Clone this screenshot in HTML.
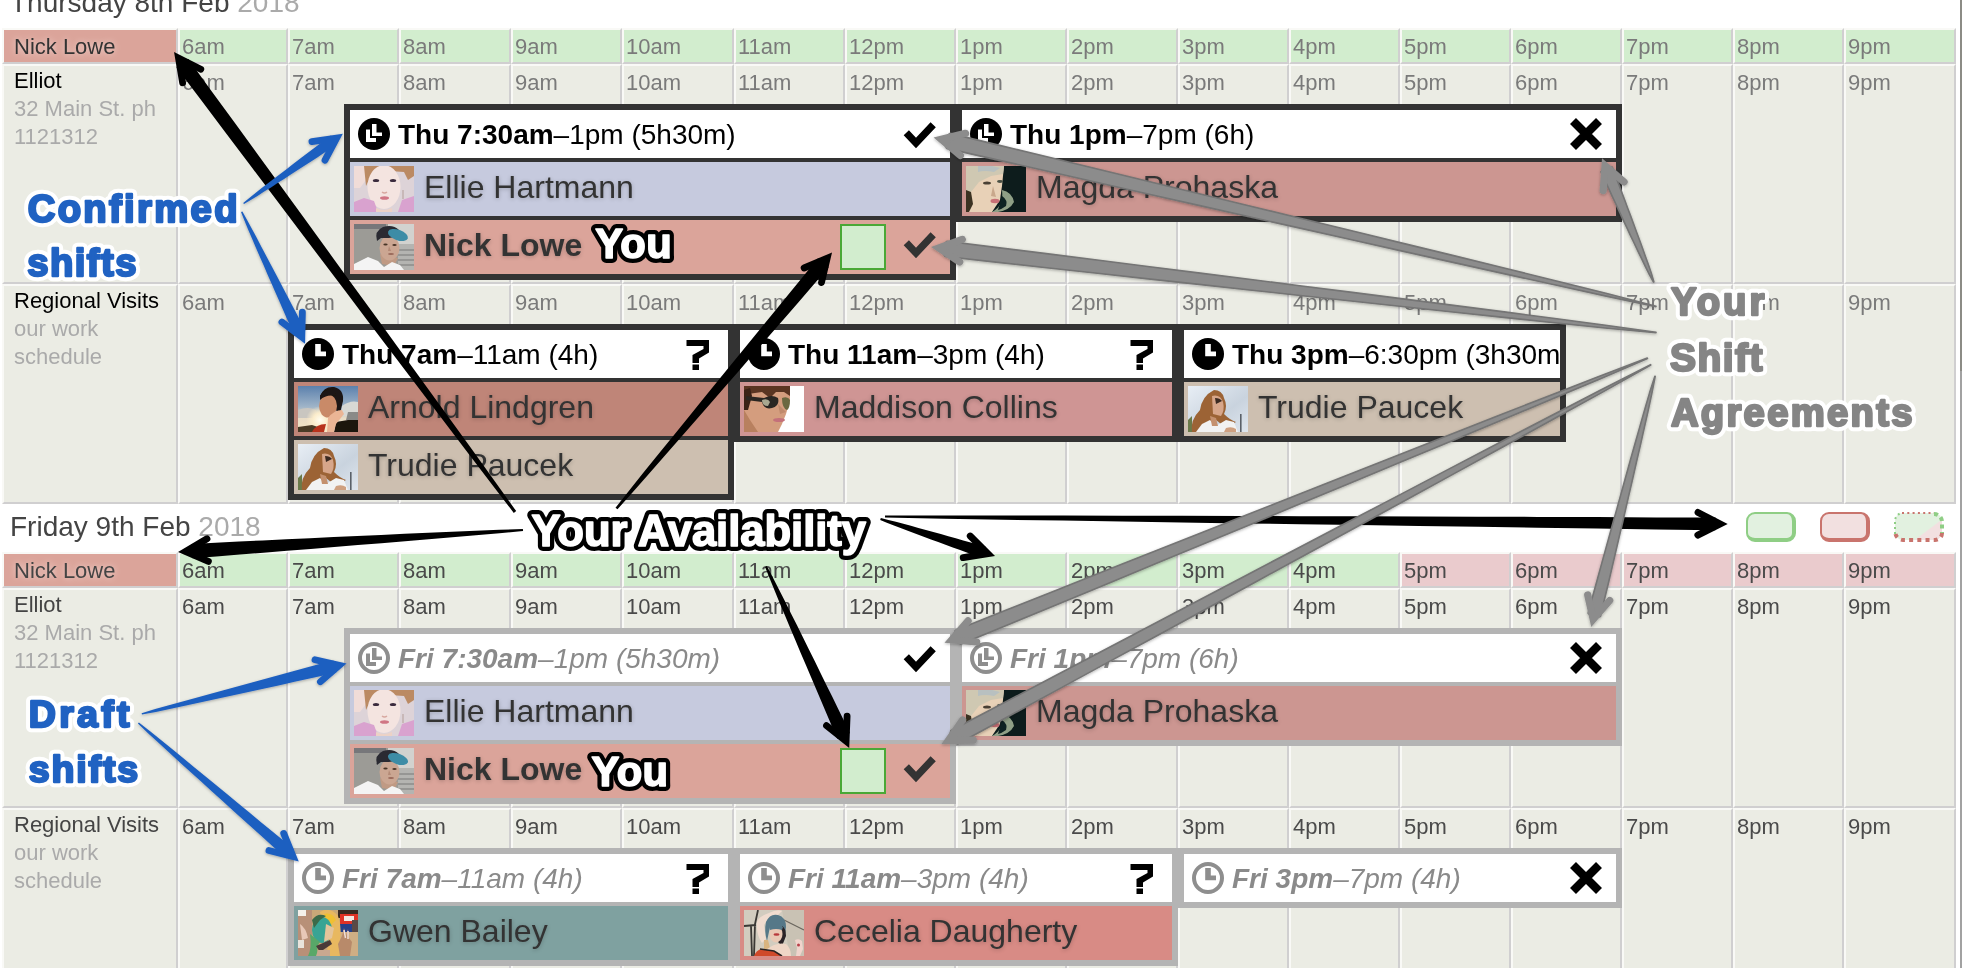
<!DOCTYPE html><html><head><meta charset="utf-8"><title>Schedule</title><style>
*{box-sizing:border-box;margin:0;padding:0}
html,body{width:1962px;height:968px;overflow:hidden;background:#fff}
body{position:relative;will-change:transform;font-family:"Liberation Sans",sans-serif}
.c{position:absolute;border-style:solid;border-width:2px;border-color:#f9f9f6 #d0cfd0 #d0cfd0 #f9f9f6;background:#ebece4;font-size:22px;line-height:28px;color:#7a7a7a;padding:3px 0 0 2px;white-space:nowrap;overflow:hidden}
.c.d{color:#4a4a4a}
.g{background:#d2edce}
.p{background:#eacbcd}
.l{padding:1px 0 0 10px;color:#000}
.l.nl{padding-top:3px}
.l.d{color:#444}
.l i{font-style:normal;color:#aaa;display:block}
.nl{background:#dba49a;color:#333;text-shadow:0 0 6px #f3d9d4}
.nl.d{color:#444}
.h{position:absolute;left:10px;font-size:28px;line-height:32px;color:#444;white-space:nowrap}
.h i{font-style:normal;color:#aaa}
.s{position:absolute;background:#333;font-size:28px}
.s.dr{background:#b4b4b4}
.s>div{position:absolute;left:6px;right:6px}
.t{top:6px;height:48px;background:#fff;line-height:49px;padding-left:48px;color:#000;white-space:nowrap;overflow:hidden}
.dr .t{color:#8a8a8a;font-style:italic}
.t b{font-weight:bold}
.r{height:54px;font-size:32px;line-height:50px;padding-left:74px;color:#333;white-space:nowrap;overflow:hidden;text-shadow:0 1px 4px rgba(0,0,0,.22)}
.r1{top:58px}.r2{top:116px}
.sq{position:absolute;left:490px;top:4px;width:46px;height:46px;background:#d2edce;border:2px solid #4aa836}
.av{position:absolute;left:4px;top:4px;width:60px;height:46px;overflow:hidden}
.ic{position:absolute}
svg{position:absolute;overflow:visible}
</style></head><body>
<svg width="0" height="0" style="left:0;top:0"><defs><filter id="bl" x="-10%" y="-10%" width="120%" height="120%"><feGaussianBlur stdDeviation="0.7"/></filter></defs></svg>
<div class="h" style="top:-13px">Thursday 8th Feb <i>2018</i></div>
<div class="h" style="top:511px">Friday 9th Feb <i>2018</i></div>
<div class="c l nl" style="left:2px;top:28px;width:176px;height:36px">Nick Lowe</div>
<div class="c g" style="left:178px;top:28px;width:110px;height:36px">6am</div>
<div class="c g" style="left:288px;top:28px;width:111px;height:36px">7am</div>
<div class="c g" style="left:399px;top:28px;width:112px;height:36px">8am</div>
<div class="c g" style="left:511px;top:28px;width:111px;height:36px">9am</div>
<div class="c g" style="left:622px;top:28px;width:112px;height:36px">10am</div>
<div class="c g" style="left:734px;top:28px;width:111px;height:36px">11am</div>
<div class="c g" style="left:845px;top:28px;width:111px;height:36px">12pm</div>
<div class="c g" style="left:956px;top:28px;width:111px;height:36px">1pm</div>
<div class="c g" style="left:1067px;top:28px;width:111px;height:36px">2pm</div>
<div class="c g" style="left:1178px;top:28px;width:111px;height:36px">3pm</div>
<div class="c g" style="left:1289px;top:28px;width:111px;height:36px">4pm</div>
<div class="c g" style="left:1400px;top:28px;width:111px;height:36px">5pm</div>
<div class="c g" style="left:1511px;top:28px;width:111px;height:36px">6pm</div>
<div class="c g" style="left:1622px;top:28px;width:111px;height:36px">7pm</div>
<div class="c g" style="left:1733px;top:28px;width:111px;height:36px">8pm</div>
<div class="c g" style="left:1844px;top:28px;width:112px;height:36px">9pm</div>
<div class="c l " style="left:2px;top:64px;width:176px;height:220px">Elliot<i>32 Main St. ph</i><i>1121312</i></div>
<div class="c " style="left:178px;top:64px;width:110px;height:220px">6am</div>
<div class="c " style="left:288px;top:64px;width:111px;height:220px">7am</div>
<div class="c " style="left:399px;top:64px;width:112px;height:220px">8am</div>
<div class="c " style="left:511px;top:64px;width:111px;height:220px">9am</div>
<div class="c " style="left:622px;top:64px;width:112px;height:220px">10am</div>
<div class="c " style="left:734px;top:64px;width:111px;height:220px">11am</div>
<div class="c " style="left:845px;top:64px;width:111px;height:220px">12pm</div>
<div class="c " style="left:956px;top:64px;width:111px;height:220px">1pm</div>
<div class="c " style="left:1067px;top:64px;width:111px;height:220px">2pm</div>
<div class="c " style="left:1178px;top:64px;width:111px;height:220px">3pm</div>
<div class="c " style="left:1289px;top:64px;width:111px;height:220px">4pm</div>
<div class="c " style="left:1400px;top:64px;width:111px;height:220px">5pm</div>
<div class="c " style="left:1511px;top:64px;width:111px;height:220px">6pm</div>
<div class="c " style="left:1622px;top:64px;width:111px;height:220px">7pm</div>
<div class="c " style="left:1733px;top:64px;width:111px;height:220px">8pm</div>
<div class="c " style="left:1844px;top:64px;width:112px;height:220px">9pm</div>
<div class="c l " style="left:2px;top:284px;width:176px;height:220px">Regional Visits<i>our work</i><i>schedule</i></div>
<div class="c " style="left:178px;top:284px;width:110px;height:220px">6am</div>
<div class="c " style="left:288px;top:284px;width:111px;height:220px">7am</div>
<div class="c " style="left:399px;top:284px;width:112px;height:220px">8am</div>
<div class="c " style="left:511px;top:284px;width:111px;height:220px">9am</div>
<div class="c " style="left:622px;top:284px;width:112px;height:220px">10am</div>
<div class="c " style="left:734px;top:284px;width:111px;height:220px">11am</div>
<div class="c " style="left:845px;top:284px;width:111px;height:220px">12pm</div>
<div class="c " style="left:956px;top:284px;width:111px;height:220px">1pm</div>
<div class="c " style="left:1067px;top:284px;width:111px;height:220px">2pm</div>
<div class="c " style="left:1178px;top:284px;width:111px;height:220px">3pm</div>
<div class="c " style="left:1289px;top:284px;width:111px;height:220px">4pm</div>
<div class="c " style="left:1400px;top:284px;width:111px;height:220px">5pm</div>
<div class="c " style="left:1511px;top:284px;width:111px;height:220px">6pm</div>
<div class="c " style="left:1622px;top:284px;width:111px;height:220px">7pm</div>
<div class="c " style="left:1733px;top:284px;width:111px;height:220px">8pm</div>
<div class="c " style="left:1844px;top:284px;width:112px;height:220px">9pm</div>
<div class="c l nl d" style="left:2px;top:552px;width:176px;height:36px">Nick Lowe</div>
<div class="c g d" style="left:178px;top:552px;width:110px;height:36px">6am</div>
<div class="c g d" style="left:288px;top:552px;width:111px;height:36px">7am</div>
<div class="c g d" style="left:399px;top:552px;width:112px;height:36px">8am</div>
<div class="c g d" style="left:511px;top:552px;width:111px;height:36px">9am</div>
<div class="c g d" style="left:622px;top:552px;width:112px;height:36px">10am</div>
<div class="c g d" style="left:734px;top:552px;width:111px;height:36px">11am</div>
<div class="c g d" style="left:845px;top:552px;width:111px;height:36px">12pm</div>
<div class="c g d" style="left:956px;top:552px;width:111px;height:36px">1pm</div>
<div class="c g d" style="left:1067px;top:552px;width:111px;height:36px">2pm</div>
<div class="c g d" style="left:1178px;top:552px;width:111px;height:36px">3pm</div>
<div class="c g d" style="left:1289px;top:552px;width:111px;height:36px">4pm</div>
<div class="c p d" style="left:1400px;top:552px;width:111px;height:36px">5pm</div>
<div class="c p d" style="left:1511px;top:552px;width:111px;height:36px">6pm</div>
<div class="c p d" style="left:1622px;top:552px;width:111px;height:36px">7pm</div>
<div class="c p d" style="left:1733px;top:552px;width:111px;height:36px">8pm</div>
<div class="c p d" style="left:1844px;top:552px;width:112px;height:36px">9pm</div>
<div class="c l  d" style="left:2px;top:588px;width:176px;height:220px">Elliot<i>32 Main St. ph</i><i>1121312</i></div>
<div class="c  d" style="left:178px;top:588px;width:110px;height:220px">6am</div>
<div class="c  d" style="left:288px;top:588px;width:111px;height:220px">7am</div>
<div class="c  d" style="left:399px;top:588px;width:112px;height:220px">8am</div>
<div class="c  d" style="left:511px;top:588px;width:111px;height:220px">9am</div>
<div class="c  d" style="left:622px;top:588px;width:112px;height:220px">10am</div>
<div class="c  d" style="left:734px;top:588px;width:111px;height:220px">11am</div>
<div class="c  d" style="left:845px;top:588px;width:111px;height:220px">12pm</div>
<div class="c  d" style="left:956px;top:588px;width:111px;height:220px">1pm</div>
<div class="c  d" style="left:1067px;top:588px;width:111px;height:220px">2pm</div>
<div class="c  d" style="left:1178px;top:588px;width:111px;height:220px">3pm</div>
<div class="c  d" style="left:1289px;top:588px;width:111px;height:220px">4pm</div>
<div class="c  d" style="left:1400px;top:588px;width:111px;height:220px">5pm</div>
<div class="c  d" style="left:1511px;top:588px;width:111px;height:220px">6pm</div>
<div class="c  d" style="left:1622px;top:588px;width:111px;height:220px">7pm</div>
<div class="c  d" style="left:1733px;top:588px;width:111px;height:220px">8pm</div>
<div class="c  d" style="left:1844px;top:588px;width:112px;height:220px">9pm</div>
<div class="c l  d" style="left:2px;top:808px;width:176px;height:220px">Regional Visits<i>our work</i><i>schedule</i></div>
<div class="c  d" style="left:178px;top:808px;width:110px;height:220px">6am</div>
<div class="c  d" style="left:288px;top:808px;width:111px;height:220px">7am</div>
<div class="c  d" style="left:399px;top:808px;width:112px;height:220px">8am</div>
<div class="c  d" style="left:511px;top:808px;width:111px;height:220px">9am</div>
<div class="c  d" style="left:622px;top:808px;width:112px;height:220px">10am</div>
<div class="c  d" style="left:734px;top:808px;width:111px;height:220px">11am</div>
<div class="c  d" style="left:845px;top:808px;width:111px;height:220px">12pm</div>
<div class="c  d" style="left:956px;top:808px;width:111px;height:220px">1pm</div>
<div class="c  d" style="left:1067px;top:808px;width:111px;height:220px">2pm</div>
<div class="c  d" style="left:1178px;top:808px;width:111px;height:220px">3pm</div>
<div class="c  d" style="left:1289px;top:808px;width:111px;height:220px">4pm</div>
<div class="c  d" style="left:1400px;top:808px;width:111px;height:220px">5pm</div>
<div class="c  d" style="left:1511px;top:808px;width:111px;height:220px">6pm</div>
<div class="c  d" style="left:1622px;top:808px;width:111px;height:220px">7pm</div>
<div class="c  d" style="left:1733px;top:808px;width:111px;height:220px">8pm</div>
<div class="c  d" style="left:1844px;top:808px;width:112px;height:220px">9pm</div>
<div class="s" style="left:344px;top:104px;width:612px;height:176px">
<div class="t"><svg class="ic" style="left:8px;top:8px" width="32" height="32" viewBox="0 0 32 32"><circle cx="16" cy="16" r="16" fill="#000"/><path d="M14 6h4.5v8.5H24v3.5H14zM8 11.5h4v8.5h6v4H8z" fill="#fff"/></svg><b>Thu 7:30am</b>–1pm (5h30m)<svg class="ic" style="right:14px;top:12px" width="32" height="26" viewBox="0 0 32 26"><path d="M2.3 10.7L12 21L29.2 2.7" fill="none" stroke="#000" stroke-width="7.2"/></svg></div>
<div class="r r1" style="background:#c6cade"><div class="av" style="background:#ddd3d8"><svg width="60" height="46" viewBox="0 0 60 46" style="left:0;top:0;overflow:hidden"><g filter="url(#bl)"><rect width="60" height="46" fill="#ddd3d8"/><path d="M0 0h14l-2 14l-6 8H0z" fill="#f0dcd8"/><path d="M10 0h50v10l-6 4l-4-8l-30-2l-8 16z" fill="#bb8a64"/><ellipse cx="30" cy="21" rx="16.5" ry="22" fill="#f4e4e0"/><path d="M0 36l10-4l10 3l4 11H0zM60 30l-12 4l-4 12h16z" fill="#d9a2cf"/><path d="M22 42q8 4 16 0v4H22z" fill="#ecd2c6"/><ellipse cx="22" cy="14.5" rx="3.2" ry="1.6" fill="#3a2c3c"/><ellipse cx="39" cy="14.5" rx="3.2" ry="1.6" fill="#3a2c3c"/><ellipse cx="30.5" cy="32" rx="4.5" ry="1.8" fill="#d07684"/><path d="M28 26q2.5 2 5 0" stroke="#d8a8a0" stroke-width="1.5" fill="none"/><rect x="48" y="24" width="2" height="9" fill="#c8b8b8"/></g></svg></div>Ellie Hartmann</div>
<div class="r r2" style="background:#dba49a"><div class="av" style="background:#9c9b96"><svg width="60" height="46" viewBox="0 0 60 46" style="left:0;top:0;overflow:hidden"><g filter="url(#bl)"><rect width="60" height="46" fill="#9c9b96"/><rect x="34" y="0" width="26" height="20" fill="#d2d2cf"/><rect x="0" y="0" width="32" height="5" fill="#77777a"/><rect x="44" y="20" width="16" height="26" fill="#b4b4b1"/><path d="M44 26h16M44 31h16M44 36h16M44 41h16" stroke="#8c8c8a" stroke-width="1.5"/><path d="M26 30l2 10l12 2l4-8z" fill="#c09a84"/><ellipse cx="35.500" cy="24" rx="10" ry="12.500" fill="#cba692"/><path d="M23 17q-3-10 6-14q10-3 16 3l2 6l-12 2l-8 0z" fill="#2a2a33"/><ellipse cx="44" cy="11" rx="10.500" ry="5.200" transform="rotate(20 44 11)" fill="#3e8ca6"/><path d="M0 46v-6l14-7l10 4l6 6l8-5l8 3l4 5z" fill="#f4f4f4"/><ellipse cx="37" cy="30" rx="3" ry="1" fill="#9a6a5a"/><ellipse cx="31.500" cy="20.500" rx="2.200" ry="1" fill="#4a3428"/><ellipse cx="40.500" cy="21" rx="2.200" ry="1" fill="#4a3428"/><path d="M35 22l-1 5l3 0z" fill="#b48a76"/></g></svg></div><b>Nick Lowe</b><span class="sq"></span><svg class="ic" style="right:14px;top:12px" width="32" height="26" viewBox="0 0 32 26"><path d="M2.3 10.7L12 21L29.2 2.7" fill="none" stroke="#333" stroke-width="7.2"/></svg></div>
</div>
<div class="s" style="left:956px;top:104px;width:666px;height:118px">
<div class="t"><svg class="ic" style="left:8px;top:8px" width="32" height="32" viewBox="0 0 32 32"><circle cx="16" cy="16" r="16" fill="#000"/><path d="M14 6h4.5v8.5H24v3.5H14zM8 11.5h4v8.5h6v4H8z" fill="#fff"/></svg><b>Thu 1pm</b>–7pm (6h)<svg class="ic" style="right:14px;top:8px" width="32" height="32" viewBox="0 0 32 32"><path d="M3 3L29 29M29 3L3 29" fill="none" stroke="#000" stroke-width="8.4"/></svg></div>
<div class="r r1" style="background:#cc9691"><div class="av" style="background:#081a1a"><svg width="60" height="46" viewBox="0 0 60 46" style="left:0;top:0;overflow:hidden"><g filter="url(#bl)"><rect width="60" height="46" fill="#081a1a"/><path d="M0 0h38l-2 20l-2 14l-8 12H0z" fill="#e8d1b7"/><path d="M0 0h38l-1 8l-12 2l-12 6l-8 10l-5 0z" fill="#cfc8b2"/><path d="M0 24l5 2l2 12l-4 8H0z" fill="#3a3020"/><path d="M36 24q10 2 12 12q-4 8-16 10h-6q12-6 10-22z" fill="#8f9f86"/><path d="M36 30q6 4 4 10q-4 3-8 4z" fill="#0c2020"/><ellipse cx="21" cy="17" rx="4" ry="1.6" fill="#4a4034"/><ellipse cx="34" cy="15.5" rx="3" ry="1.4" fill="#4a5044"/><ellipse cx="29" cy="35" rx="4.5" ry="2.2" fill="#c87076"/><path d="M27 20l-2 10l5 1z" fill="#c9a88c"/><path d="M12 0q10 -2 22 2l-6 4q-10-2-16 0z" fill="#b8c0c0"/></g></svg></div>Magda Prohaska</div>
</div>
<div class="s" style="left:288px;top:324px;width:446px;height:176px">
<div class="t"><svg class="ic" style="left:8px;top:8px" width="32" height="32" viewBox="0 0 32 32"><circle cx="16" cy="16" r="16" fill="#000"/><path d="M13.2 6h5.6v7.4H24v4.8H13.2z" fill="#fff"/></svg><b>Thu 7am</b>–11am (4h)<svg class="ic" style="right:18px;top:10px" width="24" height="30" viewBox="0 0 24 30"><path d="M0.5 0H23v12.5L13 18.5V23H6.5V15L17.5 9V6H0.5zM6.5 24.5H13V30H6.5z" fill="#000"/></svg></div>
<div class="r r1" style="background:#bf8578"><div class="av" style="background:#7f9ab8"><svg width="60" height="46" viewBox="0 0 60 46" style="left:0;top:0;overflow:hidden"><g filter="url(#bl)"><defs><linearGradient id="sk" x1="0" y1="0" x2="0" y2="1"><stop offset="0" stop-color="#5b80ad"/><stop offset=".45" stop-color="#9fb4c8"/><stop offset=".7" stop-color="#e9dcc6"/><stop offset="1" stop-color="#f4e6c4"/></linearGradient><radialGradient id="sn"><stop offset="0" stop-color="#fffdf0"/><stop offset=".5" stop-color="#fbeccb"/><stop offset="1" stop-color="#fbeccb" stop-opacity="0"/></radialGradient></defs><rect width="60" height="46" fill="url(#sk)"/><path d="M44 20q8-6 16-4v14l-16 0z" fill="#d8d8d4"/><path d="M50 26h10v8H48z" fill="#8a8a88"/><path d="M0 24q10-4 18 0v8H0z" fill="#c9c6c0"/><circle cx="22" cy="34" r="14" fill="url(#sn)"/><path d="M0 41l14-2l6 2v5H0z" fill="#4a3a26"/><path d="M14 46q4-8 14-8l-2 8z" fill="#b8321c"/><path d="M36 46l2-10l12-2l10 0v12z" fill="#1a1210"/><path d="M22 10q4-10 14-9q10 2 9 14l-3 12l-6-4l-2-12z" fill="#1c1412"/><ellipse cx="30" cy="20" rx="9" ry="11.5" fill="#c98a68"/><path d="M22 10q4-8 14-6l2 6q-10-2-16 4z" fill="#1c1412"/><path d="M30 32q6-8 14-8l2 4l-8 10l-2 8h-7z" fill="#ebb595"/></g></svg></div>Arnold Lindgren</div>
<div class="r r2" style="background:#cdbfb0"><div class="av" style="background:#d5dde6"><svg width="60" height="46" viewBox="0 0 60 46" style="left:0;top:0;overflow:hidden"><g filter="url(#bl)"><defs><linearGradient id="ts" x1="0" y1="0" x2="1" y2="1"><stop offset="0" stop-color="#e8eef5"/><stop offset=".6" stop-color="#c9d3de"/><stop offset="1" stop-color="#dfe6ee"/></linearGradient></defs><rect width="60" height="46" fill="url(#ts)"/><path d="M0 34l4-4v16H0z" fill="#6a7a4a"/><path d="M52 28h1.6v18H52z" fill="#5a6068"/><path d="M4 46q-2-12 8-22q2-14 14-20q8 0 10 8q4 8 0 16q6 6 12 8l-10 6l-10-8l-8 6l-6 6z" fill="#9c6436"/><path d="M24 10q8-2 11 6q2 8-2 14l-8-2z" fill="#d7a68a"/><path d="M27 12q5 0 7 3l-6 3z" fill="#3a2a22"/><path d="M8 46l6-8l8-4l6 6l10-6l8 2l4 10z" fill="#f2f2f2"/><path d="M38 42q6-2 10 1v3H36z" fill="#cfa080"/><path d="M22 30l6 2l2 8l-6 0z" fill="#c4906e"/></g></svg></div>Trudie Paucek</div>
</div>
<div class="s" style="left:734px;top:324px;width:444px;height:118px">
<div class="t"><svg class="ic" style="left:8px;top:8px" width="32" height="32" viewBox="0 0 32 32"><circle cx="16" cy="16" r="16" fill="#000"/><path d="M13.2 6h5.6v7.4H24v4.8H13.2z" fill="#fff"/></svg><b>Thu 11am</b>–3pm (4h)<svg class="ic" style="right:18px;top:10px" width="24" height="30" viewBox="0 0 24 30"><path d="M0.5 0H23v12.5L13 18.5V23H6.5V15L17.5 9V6H0.5zM6.5 24.5H13V30H6.5z" fill="#000"/></svg></div>
<div class="r r1" style="background:#cf9594"><div class="av" style="background:#d49d7e"><svg width="60" height="46" viewBox="0 0 60 46" style="left:0;top:0;overflow:hidden"><g filter="url(#bl)"><rect width="60" height="46" fill="#fff"/><path d="M0 0h46l0 14l-4 14l-4 10l-4 8H0z" fill="#d49d7e"/><path d="M0 0h46v10l-6-4l-8 0l-6 6l-8-6l-14 2l-4 10z" fill="#5a3424"/><path d="M0 4l6-2l2 8l-4 14H0z" fill="#3a2018"/><path d="M2 10l18 2q8-4 14 0q2 8-6 10q-8 2-10-6l-16-2z" fill="#2c2622"/><path d="M38 12q6-2 8 2q0 8-3 10q-5-2-5-12z" fill="#6a6840"/><path d="M18 14q6-2 8 2l-2 4q-6 0-6-6z" fill="#a8a890"/><ellipse cx="35" cy="34" rx="6" ry="2" fill="#c4707a"/><path d="M34 18l8 8l-6 2z" fill="#c08a6c"/><path d="M0 24l6 10l8 12H0z" fill="#b8805e"/></g></svg></div>Maddison Collins</div>
</div>
<div class="s" style="left:1178px;top:324px;width:388px;height:118px">
<div class="t"><svg class="ic" style="left:8px;top:8px" width="32" height="32" viewBox="0 0 32 32"><circle cx="16" cy="16" r="16" fill="#000"/><path d="M13.2 6h5.6v7.4H24v4.8H13.2z" fill="#fff"/></svg><b>Thu 3pm</b>–6:30pm (3h30m)</div>
<div class="r r1" style="background:#cdbfb0"><div class="av" style="background:#d5dde6"><svg width="60" height="46" viewBox="0 0 60 46" style="left:0;top:0;overflow:hidden"><g filter="url(#bl)"><defs><linearGradient id="ts" x1="0" y1="0" x2="1" y2="1"><stop offset="0" stop-color="#e8eef5"/><stop offset=".6" stop-color="#c9d3de"/><stop offset="1" stop-color="#dfe6ee"/></linearGradient></defs><rect width="60" height="46" fill="url(#ts)"/><path d="M0 34l4-4v16H0z" fill="#6a7a4a"/><path d="M52 28h1.6v18H52z" fill="#5a6068"/><path d="M4 46q-2-12 8-22q2-14 14-20q8 0 10 8q4 8 0 16q6 6 12 8l-10 6l-10-8l-8 6l-6 6z" fill="#9c6436"/><path d="M24 10q8-2 11 6q2 8-2 14l-8-2z" fill="#d7a68a"/><path d="M27 12q5 0 7 3l-6 3z" fill="#3a2a22"/><path d="M8 46l6-8l8-4l6 6l10-6l8 2l4 10z" fill="#f2f2f2"/><path d="M38 42q6-2 10 1v3H36z" fill="#cfa080"/><path d="M22 30l6 2l2 8l-6 0z" fill="#c4906e"/></g></svg></div>Trudie Paucek</div>
</div>
<div class="s dr" style="left:344px;top:628px;width:612px;height:176px">
<div class="t"><svg class="ic" style="left:8px;top:8px" width="32" height="32" viewBox="0 0 32 32"><circle cx="16" cy="16" r="14" fill="none" stroke="#8e8e8e" stroke-width="4"/><path d="M14 6h4.5v8.5H24v3.5H14zM8 11.5h4v8.5h6v4H8z" fill="#8e8e8e"/></svg><b>Fri 7:30am</b>–1pm (5h30m)<svg class="ic" style="right:14px;top:12px" width="32" height="26" viewBox="0 0 32 26"><path d="M2.3 10.7L12 21L29.2 2.7" fill="none" stroke="#000" stroke-width="7.2"/></svg></div>
<div class="r r1" style="background:#c6cade"><div class="av" style="background:#ddd3d8"><svg width="60" height="46" viewBox="0 0 60 46" style="left:0;top:0;overflow:hidden"><g filter="url(#bl)"><rect width="60" height="46" fill="#ddd3d8"/><path d="M0 0h14l-2 14l-6 8H0z" fill="#f0dcd8"/><path d="M10 0h50v10l-6 4l-4-8l-30-2l-8 16z" fill="#bb8a64"/><ellipse cx="30" cy="21" rx="16.5" ry="22" fill="#f4e4e0"/><path d="M0 36l10-4l10 3l4 11H0zM60 30l-12 4l-4 12h16z" fill="#d9a2cf"/><path d="M22 42q8 4 16 0v4H22z" fill="#ecd2c6"/><ellipse cx="22" cy="14.5" rx="3.2" ry="1.6" fill="#3a2c3c"/><ellipse cx="39" cy="14.5" rx="3.2" ry="1.6" fill="#3a2c3c"/><ellipse cx="30.5" cy="32" rx="4.5" ry="1.8" fill="#d07684"/><path d="M28 26q2.5 2 5 0" stroke="#d8a8a0" stroke-width="1.5" fill="none"/><rect x="48" y="24" width="2" height="9" fill="#c8b8b8"/></g></svg></div>Ellie Hartmann</div>
<div class="r r2" style="background:#dba49a"><div class="av" style="background:#9c9b96"><svg width="60" height="46" viewBox="0 0 60 46" style="left:0;top:0;overflow:hidden"><g filter="url(#bl)"><rect width="60" height="46" fill="#9c9b96"/><rect x="34" y="0" width="26" height="20" fill="#d2d2cf"/><rect x="0" y="0" width="32" height="5" fill="#77777a"/><rect x="44" y="20" width="16" height="26" fill="#b4b4b1"/><path d="M44 26h16M44 31h16M44 36h16M44 41h16" stroke="#8c8c8a" stroke-width="1.5"/><path d="M26 30l2 10l12 2l4-8z" fill="#c09a84"/><ellipse cx="35.500" cy="24" rx="10" ry="12.500" fill="#cba692"/><path d="M23 17q-3-10 6-14q10-3 16 3l2 6l-12 2l-8 0z" fill="#2a2a33"/><ellipse cx="44" cy="11" rx="10.500" ry="5.200" transform="rotate(20 44 11)" fill="#3e8ca6"/><path d="M0 46v-6l14-7l10 4l6 6l8-5l8 3l4 5z" fill="#f4f4f4"/><ellipse cx="37" cy="30" rx="3" ry="1" fill="#9a6a5a"/><ellipse cx="31.500" cy="20.500" rx="2.200" ry="1" fill="#4a3428"/><ellipse cx="40.500" cy="21" rx="2.200" ry="1" fill="#4a3428"/><path d="M35 22l-1 5l3 0z" fill="#b48a76"/></g></svg></div><b>Nick Lowe</b><span class="sq"></span><svg class="ic" style="right:14px;top:12px" width="32" height="26" viewBox="0 0 32 26"><path d="M2.3 10.7L12 21L29.2 2.7" fill="none" stroke="#333" stroke-width="7.2"/></svg></div>
</div>
<div class="s dr" style="left:956px;top:628px;width:666px;height:118px">
<div class="t"><svg class="ic" style="left:8px;top:8px" width="32" height="32" viewBox="0 0 32 32"><circle cx="16" cy="16" r="14" fill="none" stroke="#8e8e8e" stroke-width="4"/><path d="M14 6h4.5v8.5H24v3.5H14zM8 11.5h4v8.5h6v4H8z" fill="#8e8e8e"/></svg><b>Fri 1pm</b>–7pm (6h)<svg class="ic" style="right:14px;top:8px" width="32" height="32" viewBox="0 0 32 32"><path d="M3 3L29 29M29 3L3 29" fill="none" stroke="#000" stroke-width="8.4"/></svg></div>
<div class="r r1" style="background:#cc9691"><div class="av" style="background:#081a1a"><svg width="60" height="46" viewBox="0 0 60 46" style="left:0;top:0;overflow:hidden"><g filter="url(#bl)"><rect width="60" height="46" fill="#081a1a"/><path d="M0 0h38l-2 20l-2 14l-8 12H0z" fill="#e8d1b7"/><path d="M0 0h38l-1 8l-12 2l-12 6l-8 10l-5 0z" fill="#cfc8b2"/><path d="M0 24l5 2l2 12l-4 8H0z" fill="#3a3020"/><path d="M36 24q10 2 12 12q-4 8-16 10h-6q12-6 10-22z" fill="#8f9f86"/><path d="M36 30q6 4 4 10q-4 3-8 4z" fill="#0c2020"/><ellipse cx="21" cy="17" rx="4" ry="1.6" fill="#4a4034"/><ellipse cx="34" cy="15.5" rx="3" ry="1.4" fill="#4a5044"/><ellipse cx="29" cy="35" rx="4.5" ry="2.2" fill="#c87076"/><path d="M27 20l-2 10l5 1z" fill="#c9a88c"/><path d="M12 0q10 -2 22 2l-6 4q-10-2-16 0z" fill="#b8c0c0"/></g></svg></div>Magda Prohaska</div>
</div>
<div class="s dr" style="left:288px;top:848px;width:446px;height:118px">
<div class="t"><svg class="ic" style="left:8px;top:8px" width="32" height="32" viewBox="0 0 32 32"><circle cx="16" cy="16" r="14" fill="none" stroke="#8e8e8e" stroke-width="4"/><path d="M13.2 6h5.6v7.4H24v4.8H13.2z" fill="#8e8e8e"/></svg><b>Fri 7am</b>–11am (4h)<svg class="ic" style="right:18px;top:10px" width="24" height="30" viewBox="0 0 24 30"><path d="M0.5 0H23v12.5L13 18.5V23H6.5V15L17.5 9V6H0.5zM6.5 24.5H13V30H6.5z" fill="#000"/></svg></div>
<div class="r r1" style="background:#7fa1a0"><div class="av" style="background:#c9a878"><svg width="60" height="46" viewBox="0 0 60 46" style="left:0;top:0;overflow:hidden"><g filter="url(#bl)"><rect width="60" height="46" fill="#c9a878"/><rect x="0" y="0" width="14" height="46" fill="#b89078"/><rect x="0" y="0" width="8" height="6" fill="#f4f0ea"/><rect x="0" y="30" width="6" height="8" fill="#e8e4dc"/><path d="M2 14q6 4 8 14l-6 2z" fill="#e8c8b8"/><rect x="40" y="0" width="20" height="8" fill="#3a2a20"/><rect x="42" y="4" width="18" height="10" fill="#e03028"/><rect x="46" y="6" width="10" height="5" fill="#f4e8e4"/><rect x="42" y="14" width="12" height="8" fill="#27408a"/><rect x="54" y="10" width="6" height="24" fill="#5a4a44"/><rect x="42" y="22" width="18" height="24" fill="#cfae84"/><path d="M22 2q10-6 18 4q4 10 2 24l0 16H28l4-20l-8-16z" fill="#e8b860"/><path d="M26 4q8-2 12 6l-8 8z" fill="#f0c030"/><ellipse cx="24" cy="20" rx="10" ry="13" fill="#38a494"/><path d="M28 14l8 4l-2 10l-8 4z" fill="#e4c49a"/><path d="M14 10q6-8 14-4l-6 4l-6 8z" fill="#3a6a4a"/><path d="M12 24q2 14 -2 22h10q-2-10 2-14z" fill="#58a868"/><path d="M18 36l14-6l2 4l-12 8z" fill="#4a3a38"/><path d="M20 40h12v6H18z" fill="#c8a890"/><path d="M44 26l2-8l2 8l2-7l1 9l3 4l-2 14h-10l-2-12z" fill="#b88a6a"/><path d="M46 20l1.500 8M50 21l0 8" stroke="#f0e0d8" stroke-width="1.5"/></g></svg></div>Gwen Bailey</div>
</div>
<div class="s dr" style="left:734px;top:848px;width:444px;height:118px">
<div class="t"><svg class="ic" style="left:8px;top:8px" width="32" height="32" viewBox="0 0 32 32"><circle cx="16" cy="16" r="14" fill="none" stroke="#8e8e8e" stroke-width="4"/><path d="M13.2 6h5.6v7.4H24v4.8H13.2z" fill="#8e8e8e"/></svg><b>Fri 11am</b>–3pm (4h)<svg class="ic" style="right:18px;top:10px" width="24" height="30" viewBox="0 0 24 30"><path d="M0.5 0H23v12.5L13 18.5V23H6.5V15L17.5 9V6H0.5zM6.5 24.5H13V30H6.5z" fill="#000"/></svg></div>
<div class="r r1" style="background:#d88b85"><div class="av" style="background:#d2ccbf"><svg width="60" height="46" viewBox="0 0 60 46" style="left:0;top:0;overflow:hidden"><g filter="url(#bl)"><rect width="60" height="46" fill="#d2ccbf"/><path d="M38 0h22v46H46q-4-20-8-46z" fill="#c9c2b4"/><path d="M0 16l12-1M14 0l-3 14l-1 32M7 16l1 30" stroke="#3a3834" stroke-width="1.8" fill="none"/><path d="M40 10l8 4l12 6" stroke="#6a665e" stroke-width="1.2" fill="none"/><path d="M13 12q2-6 12-9q8-4 13-2l-4 4l-10 4l-4 6l2 14l-4 4q-6-8-5-21z" fill="#f0dccf"/><path d="M22 12q4-9 12-7q8 2 8 12l-2 14l-4 2l2-16q-8-4-12 0l-3 14q-3-10-1-19z" fill="#557888"/><path d="M38 16q4 2 4 10l-4 10l-4-4z" fill="#2a2426"/><ellipse cx="32" cy="24" rx="6.500" ry="8.500" fill="#e9c8b4"/><path d="M25 16q6-4 14 1l-1 3q-6-2-12 0z" fill="#557888"/><ellipse cx="32.500" cy="24.500" rx="3" ry="1.300" fill="#b8383a"/><path d="M20 30l4 0l2 8l-6 2z" fill="#d9b480"/><path d="M22 40q10-8 20-6q5 4 5 12H24z" fill="#efd6c6"/><path d="M10 46q2-6 8-7l12 2l8 5z" fill="#d04a2c"/><path d="M16 39l14 2l8 5" stroke="#2a2422" stroke-width="1.5" fill="none"/><path d="M51 30q4-2 7 1l1 8l-3 7h-4l1-8z" fill="#f0d4cc"/><circle cx="54.500" cy="35" r="1.500" fill="#b8404a"/></g></svg></div>Cecelia Daugherty</div>
</div>
<div class="s dr" style="left:1178px;top:848px;width:444px;height:60px">
<div class="t"><svg class="ic" style="left:8px;top:8px" width="32" height="32" viewBox="0 0 32 32"><circle cx="16" cy="16" r="14" fill="none" stroke="#8e8e8e" stroke-width="4"/><path d="M13.2 6h5.6v7.4H24v4.8H13.2z" fill="#8e8e8e"/></svg><b>Fri 3pm</b>–7pm (4h)<svg class="ic" style="right:14px;top:8px" width="32" height="32" viewBox="0 0 32 32"><path d="M3 3L29 29M29 3L3 29" fill="none" stroke="#000" stroke-width="8.4"/></svg></div>
</div>
<div style="position:absolute;left:1746px;top:512px;width:50px;height:30px;border:solid #8fce85;border-width:2px 4px 4px 2px;border-radius:9px;background:#e2f1e0"></div>
<div style="position:absolute;left:1820px;top:512px;width:50px;height:30px;border:solid #c9746d;border-width:2px 4px 4px 2px;border-radius:9px;background:#f2e0e0"></div>
<svg style="left:1894px;top:512px" width="50" height="30" viewBox="0 0 50 30"><defs><clipPath id="lc"><rect x="1" y="1" width="47" height="27" rx="8"/></clipPath></defs><g clip-path="url(#lc)"><rect width="50" height="30" fill="#e2f1e0"/><path d="M50 6L18 30H50z" fill="#f2e0e0"/></g><path d="M1 22V9A8 8 0 0 1 9 1" fill="none" stroke="#8fce85" stroke-width="2" stroke-dasharray="2 3"/><path d="M8 1H40" fill="none" stroke="#c9746d" stroke-width="2" stroke-dasharray="2 3.3"/><path d="M40 2A8 8 0 0 1 48 9V22" fill="none" stroke="#8fce85" stroke-width="4" stroke-dasharray="4 3.5"/><path d="M48 21A7 7 0 0 1 41 28H9A8 8 0 0 1 1.500 22" fill="none" stroke="#c9746d" stroke-width="4" stroke-dasharray="4 4.2"/></svg>
<div style="position:absolute;left:1960px;top:0;width:2px;height:371px;background:#8c8c86"></div><div style="position:absolute;left:1960px;top:371px;width:2px;height:597px;background:#a2a2a2"></div>
<svg width="1962" height="968" viewBox="0 0 1962 968" style="left:0;top:0;pointer-events:none"><defs><filter id="ts" x="-5%" y="-20%" width="110%" height="150%"><feDropShadow dx="0" dy="1.5" stdDeviation="1.2" flood-color="#000" flood-opacity=".45"/></filter><filter id="as" x="-5%" y="-5%" width="110%" height="110%"><feDropShadow dx="0" dy="1" stdDeviation="1.5" flood-color="#000" flood-opacity=".3"/></filter></defs><g><polygon points="513.8,512.9 489.5,481.3 465.3,449.5 441.2,417.8 417.1,386.0 393.0,354.2 368.9,322.4 344.9,290.6 320.8,258.8 296.8,226.9 272.7,195.1 248.7,163.3 224.7,131.4 200.7,99.6 176.6,67.7 179.1,58.8 188.3,59.1 211.8,91.4 235.3,123.6 258.7,155.8 282.2,188.1 305.7,220.3 329.1,252.6 352.6,284.9 376.0,317.1 399.5,349.4 422.9,381.7 446.3,414.0 469.7,446.3 493.0,478.7 516.2,511.1" fill="#000"/><polyline points="182.6,82.7 178.5,58.0 200.8,69.2" fill="none" stroke="#000" stroke-width="6.8" stroke-linecap="round" stroke-linejoin="miter" stroke-miterlimit="10"/><polygon points="615.5,507.7 629.8,489.7 644.1,471.8 658.5,454.0 673.0,436.2 687.4,418.4 701.9,400.6 716.3,382.8 730.8,365.0 745.3,347.3 759.8,329.5 774.3,311.8 788.8,294.0 803.3,276.3 817.8,258.5 826.5,259.0 828.5,267.5 813.5,284.8 798.5,302.2 783.5,319.5 768.4,336.8 753.4,354.1 738.4,371.4 723.3,388.7 708.3,406.0 693.2,423.3 678.1,440.5 663.0,457.8 647.9,475.0 632.7,492.2 617.5,509.3" fill="#000"/><polyline points="804.1,268.0 827.2,258.2 821.5,282.6" fill="none" stroke="#000" stroke-width="6.8" stroke-linecap="round" stroke-linejoin="miter" stroke-miterlimit="10"/><polygon points="523.1,531.0 499.5,533.3 475.9,535.3 452.3,537.3 428.7,539.3 405.1,541.3 381.5,543.2 357.9,545.1 334.3,547.0 310.7,548.9 287.1,550.8 263.5,552.7 239.9,554.6 216.3,556.5 192.7,558.3 186.5,551.5 191.7,543.9 215.4,542.7 239.0,541.6 262.7,540.4 286.3,539.3 310.0,538.2 333.7,537.1 357.3,536.0 381.0,534.9 404.6,533.8 428.3,532.7 451.9,531.7 475.6,530.7 499.3,529.8 522.9,529.0" fill="#000"/><polyline points="208.4,561.4 185.5,551.5 207.0,538.8" fill="none" stroke="#000" stroke-width="6.8" stroke-linecap="round" stroke-linejoin="miter" stroke-miterlimit="10"/><polygon points="880.8,518.0 888.4,519.9 895.9,521.8 903.4,523.8 910.9,525.8 918.4,527.9 925.9,529.9 933.3,532.0 940.8,534.1 948.3,536.2 955.8,538.3 963.2,540.4 970.7,542.5 978.2,544.6 985.6,546.7 986.9,553.4 981.9,558.1 974.7,555.4 967.4,552.8 960.1,550.1 952.8,547.4 945.5,544.8 938.2,542.1 931.0,539.4 923.7,536.7 916.4,534.0 909.1,531.2 901.9,528.5 894.6,525.7 887.4,522.9 880.2,520.0" fill="#000"/><polyline points="970.2,536.0 987.9,553.7 963.2,557.6" fill="none" stroke="#000" stroke-width="6.8" stroke-linecap="round" stroke-linejoin="miter" stroke-miterlimit="10"/><polygon points="885.0,515.5 944.3,515.4 1003.6,515.4 1063.0,515.5 1122.3,515.7 1181.6,515.8 1240.9,516.0 1300.2,516.2 1359.5,516.3 1418.8,516.5 1478.1,516.7 1537.5,516.9 1596.8,517.1 1656.1,517.4 1715.4,517.6 1719.2,523.9 1715.3,530.2 1656.0,529.4 1596.7,528.5 1537.4,527.7 1478.1,526.8 1418.7,526.0 1359.4,525.1 1300.1,524.2 1240.8,523.4 1181.5,522.5 1122.2,521.6 1062.9,520.6 1003.6,519.7 944.3,518.7 885.0,517.5" fill="#000"/><polyline points="1698.0,512.4 1720.2,523.9 1697.8,535.1" fill="none" stroke="#000" stroke-width="6.8" stroke-linecap="round" stroke-linejoin="miter" stroke-miterlimit="10"/><polygon points="766.9,566.1 773.1,577.9 779.1,589.7 785.1,601.6 791.0,613.5 797.0,625.3 802.9,637.2 808.8,649.2 814.7,661.1 820.5,673.0 826.4,684.9 832.3,696.8 838.1,708.7 844.0,720.7 849.8,732.6 845.7,740.3 837.1,738.4 831.9,726.2 826.7,714.0 821.5,701.8 816.3,689.5 811.1,677.3 805.9,665.1 800.7,652.9 795.5,640.6 790.4,628.4 785.2,616.1 780.1,603.9 775.0,591.6 770.0,579.3 765.1,566.9" fill="#000"/><polyline points="847.1,716.2 846.1,741.2 826.5,725.7" fill="none" stroke="#000" stroke-width="6.8" stroke-linecap="round" stroke-linejoin="miter" stroke-miterlimit="10"/></g><g filter="url(#as)"><polygon points="243.2,202.9 249.3,197.9 255.5,193.0 261.7,188.1 268.0,183.3 274.2,178.5 280.5,173.7 286.8,168.9 293.1,164.1 299.3,159.3 305.6,154.6 311.9,149.8 318.2,145.0 324.5,140.3 330.8,135.5 335.9,138.7 337.1,144.5 330.5,148.8 323.9,153.1 317.3,157.4 310.7,161.7 304.0,166.0 297.4,170.3 290.8,174.6 284.1,178.9 277.5,183.1 270.9,187.4 264.2,191.6 257.5,195.9 250.8,200.0 244.0,204.1" fill="#1f5fc0"/><polyline points="311.9,141.6 336.7,138.1 325.0,160.2" fill="none" stroke="#1f5fc0" stroke-width="6.8" stroke-linecap="round" stroke-linejoin="miter" stroke-miterlimit="10"/><polygon points="242.4,211.5 247.1,219.9 251.7,228.4 256.2,236.8 260.7,245.4 265.2,253.9 269.7,262.4 274.2,270.9 278.7,279.4 283.1,288.0 287.6,296.5 292.0,305.1 296.5,313.6 300.9,322.1 305.3,330.7 301.3,336.2 294.5,335.9 290.6,327.1 286.7,318.3 282.9,309.4 279.0,300.6 275.1,291.8 271.3,283.0 267.4,274.2 263.6,265.3 259.7,256.5 255.9,247.7 252.1,238.8 248.3,230.0 244.6,221.1 241.0,212.1" fill="#1f5fc0"/><polyline points="302.4,312.2 301.8,337.1 281.9,322.0" fill="none" stroke="#1f5fc0" stroke-width="6.8" stroke-linecap="round" stroke-linejoin="miter" stroke-miterlimit="10"/><polygon points="141.6,713.2 155.2,709.1 168.9,705.3 182.6,701.5 196.3,697.7 209.9,693.9 223.6,690.2 237.3,686.4 251.0,682.7 264.7,679.0 278.4,675.3 292.1,671.5 305.8,667.8 319.5,664.1 333.2,660.5 338.4,665.6 336.2,672.6 322.3,675.7 308.5,678.7 294.6,681.8 280.8,684.9 266.9,687.9 253.0,691.0 239.2,694.0 225.3,697.0 211.4,700.1 197.6,703.1 183.7,706.0 169.8,709.0 155.9,711.9 142.0,714.6" fill="#1f5fc0"/><polyline points="315.0,659.7 339.3,665.4 320.4,681.7" fill="none" stroke="#1f5fc0" stroke-width="6.8" stroke-linecap="round" stroke-linejoin="miter" stroke-miterlimit="10"/><polygon points="138.9,722.4 150.1,731.3 161.3,740.3 172.4,749.3 183.4,758.3 194.5,767.4 205.6,776.4 216.6,785.5 227.6,794.6 238.7,803.7 249.7,812.8 260.7,821.9 271.8,831.0 282.8,840.1 293.8,849.2 292.4,855.9 286.0,858.2 275.3,848.7 264.7,839.1 254.1,829.5 243.5,820.0 232.9,810.4 222.3,800.8 211.7,791.2 201.1,781.6 190.5,772.0 179.9,762.4 169.4,752.7 158.8,743.1 148.3,733.4 137.9,723.6" fill="#1f5fc0"/><polyline points="283.7,833.4 293.1,856.5 268.9,850.5" fill="none" stroke="#1f5fc0" stroke-width="6.8" stroke-linecap="round" stroke-linejoin="miter" stroke-miterlimit="10"/><polygon points="1653.5,282.1 1649.3,274.4 1645.4,266.6 1641.6,258.7 1637.8,250.9 1634.1,243.0 1630.3,235.1 1626.6,227.2 1622.9,219.3 1619.3,211.4 1615.6,203.5 1611.9,195.6 1608.3,187.6 1604.6,179.7 1601.0,171.8 1605.4,166.6 1612.2,167.1 1615.3,175.2 1618.4,183.4 1621.5,191.6 1624.6,199.7 1627.6,207.9 1630.7,216.1 1633.7,224.2 1636.7,232.4 1639.7,240.6 1642.7,248.8 1645.6,257.0 1648.6,265.3 1651.4,273.5 1653.9,281.9" fill="#8c8c8c" stroke="#747474" stroke-width="1.6" stroke-linejoin="round"/><polyline points="1603.2,190.6 1605.1,165.7 1624.1,181.9" fill="none" stroke="#8c8c8c" stroke-width="7.2" stroke-linecap="round" stroke-linejoin="miter" stroke-miterlimit="10"/><polygon points="1656.0,306.6 1605.1,295.9 1554.4,284.8 1503.7,273.6 1453.0,262.4 1402.4,251.1 1351.7,239.7 1301.1,228.4 1250.4,217.0 1199.8,205.6 1149.1,194.2 1098.5,182.8 1047.8,171.3 997.2,159.9 946.6,148.4 942.3,139.5 950.1,133.4 1000.5,145.6 1051.0,157.8 1101.4,170.0 1151.9,182.2 1202.4,194.5 1252.8,206.7 1303.3,219.0 1353.7,231.3 1404.1,243.6 1454.6,255.9 1505.0,268.3 1555.4,280.7 1605.8,293.2 1656.0,306.2" fill="#8c8c8c" stroke="#747474" stroke-width="1.6" stroke-linejoin="round"/><polyline points="960.4,155.4 941.3,139.3 965.6,133.3" fill="none" stroke="#8c8c8c" stroke-width="7.2" stroke-linecap="round" stroke-linejoin="miter" stroke-miterlimit="10"/><polygon points="1656.0,332.8 1605.1,328.0 1554.3,322.7 1503.5,317.4 1452.8,312.0 1402.0,306.5 1351.2,301.0 1300.4,295.5 1249.7,290.0 1198.9,284.4 1148.1,278.9 1097.4,273.3 1046.6,267.7 995.9,262.1 945.1,256.5 939.9,248.1 946.9,241.2 997.6,247.6 1048.2,253.9 1098.9,260.3 1149.6,266.7 1200.2,273.1 1250.9,279.5 1301.6,286.0 1352.2,292.4 1402.9,298.9 1453.5,305.4 1504.2,311.9 1554.8,318.5 1605.4,325.2 1656.0,332.4" fill="#8c8c8c" stroke="#747474" stroke-width="1.6" stroke-linejoin="round"/><polyline points="959.7,261.9 938.9,248.0 962.3,239.4" fill="none" stroke="#8c8c8c" stroke-width="7.2" stroke-linecap="round" stroke-linejoin="miter" stroke-miterlimit="10"/><polygon points="1647.5,358.4 1598.7,379.4 1549.7,400.0 1500.7,420.5 1451.6,440.9 1402.6,461.3 1353.5,481.7 1304.4,502.1 1255.3,522.4 1206.3,542.7 1157.2,563.1 1108.1,583.4 1059.0,603.7 1009.9,623.9 960.7,644.2 952.7,639.4 955.2,630.4 1004.5,610.8 1053.9,591.2 1103.3,571.6 1152.7,552.1 1202.1,532.5 1251.5,513.0 1300.9,493.4 1350.3,473.9 1399.8,454.4 1449.2,435.0 1498.7,415.5 1548.1,396.2 1597.6,376.9 1647.3,358.0" fill="#8c8c8c" stroke="#747474" stroke-width="1.6" stroke-linejoin="round"/><polyline points="976.7,642.0 951.8,639.8 968.1,620.9" fill="none" stroke="#8c8c8c" stroke-width="7.2" stroke-linecap="round" stroke-linejoin="miter" stroke-miterlimit="10"/><polygon points="1650.8,365.0 1601.6,392.6 1552.2,419.8 1502.7,447.0 1453.2,474.1 1403.7,501.2 1354.2,528.2 1304.6,555.2 1255.1,582.2 1205.5,609.2 1156.0,636.2 1106.4,663.1 1056.9,690.1 1007.3,717.0 957.7,744.0 949.2,740.1 950.7,730.8 1000.6,704.5 1050.5,678.3 1100.5,652.0 1150.4,625.7 1200.3,599.5 1250.3,573.2 1300.2,547.0 1350.2,520.8 1400.2,494.6 1450.2,468.4 1500.2,442.3 1550.2,416.2 1600.3,390.2 1650.6,364.6" fill="#8c8c8c" stroke="#747474" stroke-width="1.6" stroke-linejoin="round"/><polyline points="973.3,740.1 948.3,740.6 962.6,720.0" fill="none" stroke="#8c8c8c" stroke-width="7.2" stroke-linecap="round" stroke-linejoin="miter" stroke-miterlimit="10"/><polygon points="1655.2,376.4 1651.8,393.7 1648.1,410.9 1644.2,428.1 1640.4,445.2 1636.4,462.3 1632.5,479.5 1628.5,496.6 1624.6,513.7 1620.6,530.8 1616.6,548.0 1612.6,565.1 1608.6,582.2 1604.5,599.3 1600.5,616.4 1593.4,618.3 1588.1,613.2 1592.7,596.3 1597.4,579.3 1602.0,562.4 1606.7,545.4 1611.4,528.5 1616.1,511.6 1620.8,494.6 1625.5,477.7 1630.2,460.8 1635.0,443.8 1639.8,426.9 1644.6,410.0 1649.5,393.1 1654.8,376.4" fill="#8c8c8c" stroke="#747474" stroke-width="1.6" stroke-linejoin="round"/><polyline points="1609.7,600.5 1593.2,619.3 1587.7,594.9" fill="none" stroke="#8c8c8c" stroke-width="7.2" stroke-linecap="round" stroke-linejoin="miter" stroke-miterlimit="10"/></g><text x="27.7" y="221.8" style="font-family:'Liberation Sans',sans-serif;font-weight:bold;font-size:38.27px;letter-spacing:2.32px" fill="#fff" stroke="#fff" stroke-width="10.4" stroke-linejoin="round" filter="url(#ts)">Confirmed</text><text x="27.7" y="221.8" style="font-family:'Liberation Sans',sans-serif;font-weight:bold;font-size:38.27px;letter-spacing:2.32px" fill="#2062c2" stroke="#2062c2" stroke-width="2.4" stroke-linejoin="round">Confirmed</text><text x="27.2" y="276.3" style="font-family:'Liberation Sans',sans-serif;font-weight:bold;font-size:38.27px;letter-spacing:1.44px" fill="#fff" stroke="#fff" stroke-width="10.4" stroke-linejoin="round" filter="url(#ts)">shifts</text><text x="27.2" y="276.3" style="font-family:'Liberation Sans',sans-serif;font-weight:bold;font-size:38.27px;letter-spacing:1.44px" fill="#2062c2" stroke="#2062c2" stroke-width="2.4" stroke-linejoin="round">shifts</text><text x="28.7" y="726.8" style="font-family:'Liberation Sans',sans-serif;font-weight:bold;font-size:37.57px;letter-spacing:3.32px" fill="#fff" stroke="#fff" stroke-width="10.4" stroke-linejoin="round" filter="url(#ts)">Draft</text><text x="28.7" y="726.8" style="font-family:'Liberation Sans',sans-serif;font-weight:bold;font-size:37.57px;letter-spacing:3.32px" fill="#2062c2" stroke="#2062c2" stroke-width="2.4" stroke-linejoin="round">Draft</text><text x="28.7" y="782.1" style="font-family:'Liberation Sans',sans-serif;font-weight:bold;font-size:37.57px;letter-spacing:1.86px" fill="#fff" stroke="#fff" stroke-width="10.4" stroke-linejoin="round" filter="url(#ts)">shifts</text><text x="28.7" y="782.1" style="font-family:'Liberation Sans',sans-serif;font-weight:bold;font-size:37.57px;letter-spacing:1.86px" fill="#2062c2" stroke="#2062c2" stroke-width="2.4" stroke-linejoin="round">shifts</text><text x="531.5" y="545.7" style="font-family:'Liberation Sans',sans-serif;font-weight:bold;font-size:43.58px;letter-spacing:-0.03px" fill="#000" stroke="#000" stroke-width="10.1" stroke-linejoin="round" filter="url(#ts)">Your Availability</text><text x="531.5" y="545.7" style="font-family:'Liberation Sans',sans-serif;font-weight:bold;font-size:43.58px;letter-spacing:-0.03px" fill="#fff" stroke="#fff" stroke-width="1.6" stroke-linejoin="round">Your Availability</text><text x="595.3" y="258.4" style="font-family:'Liberation Sans',sans-serif;font-weight:bold;font-size:41.76px;letter-spacing:0.30px" fill="#000" stroke="#000" stroke-width="10.1" stroke-linejoin="round" filter="url(#ts)">You</text><text x="595.3" y="258.4" style="font-family:'Liberation Sans',sans-serif;font-weight:bold;font-size:41.76px;letter-spacing:0.30px" fill="#fff" stroke="#fff" stroke-width="1.6" stroke-linejoin="round">You</text><text x="591.6" y="785.5" style="font-family:'Liberation Sans',sans-serif;font-weight:bold;font-size:41.76px;letter-spacing:0.30px" fill="#000" stroke="#000" stroke-width="10.1" stroke-linejoin="round" filter="url(#ts)">You</text><text x="591.6" y="785.5" style="font-family:'Liberation Sans',sans-serif;font-weight:bold;font-size:41.76px;letter-spacing:0.30px" fill="#fff" stroke="#fff" stroke-width="1.6" stroke-linejoin="round">You</text><text x="1670.9" y="315.3" style="font-family:'Liberation Sans',sans-serif;font-weight:bold;font-size:38.27px;letter-spacing:3.07px" fill="#fff" stroke="#fff" stroke-width="10.4" stroke-linejoin="round" filter="url(#ts)">Your</text><text x="1670.9" y="315.3" style="font-family:'Liberation Sans',sans-serif;font-weight:bold;font-size:38.27px;letter-spacing:3.07px" fill="#858585" stroke="#858585" stroke-width="2.4" stroke-linejoin="round">Your</text><text x="1670.0" y="370.7" style="font-family:'Liberation Sans',sans-serif;font-weight:bold;font-size:38.97px;letter-spacing:1.50px" fill="#fff" stroke="#fff" stroke-width="10.4" stroke-linejoin="round" filter="url(#ts)">Shift</text><text x="1670.0" y="370.7" style="font-family:'Liberation Sans',sans-serif;font-weight:bold;font-size:38.97px;letter-spacing:1.50px" fill="#858585" stroke="#858585" stroke-width="2.4" stroke-linejoin="round">Shift</text><text x="1670.9" y="426.0" style="font-family:'Liberation Sans',sans-serif;font-weight:bold;font-size:38.27px;letter-spacing:2.27px" fill="#fff" stroke="#fff" stroke-width="10.4" stroke-linejoin="round" filter="url(#ts)">Agreements</text><text x="1670.9" y="426.0" style="font-family:'Liberation Sans',sans-serif;font-weight:bold;font-size:38.27px;letter-spacing:2.27px" fill="#858585" stroke="#858585" stroke-width="2.4" stroke-linejoin="round">Agreements</text></svg>
</body></html>
